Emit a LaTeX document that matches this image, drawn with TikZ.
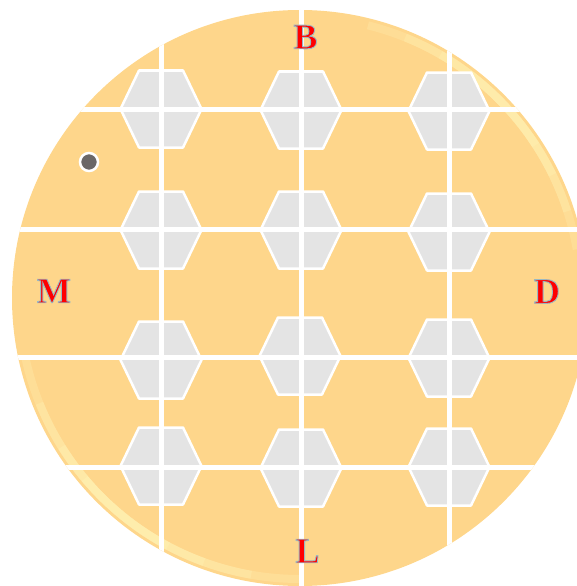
\documentclass[tikz,border=0pt]{standalone}
\usepackage{fontspec}
\setmainfont{Liberation Serif}
\definecolor{wafer}{RGB}{254,214,139}
\definecolor{hexgray}{RGB}{228,228,228}
\definecolor{dotgray}{RGB}{107,103,103}
\definecolor{rimhl}{RGB}{255,250,190}
\tikzset{
  hexcell/.pic={\fill[hexgray, draw=white, line width=2.5pt, line join=round]
     (-40.5,0) -- (-22,-38.5) -- (22,-38.5) -- (40.5,0) -- (22,38.5) -- (-22,38.5) -- cycle;},
  gridline/.style={white, line width=5pt},
  lbl/.style={font=\fontsize{36}{36}\selectfont\bfseries, inner sep=0pt, text=red},
  rim/.style={rimhl, line width=8pt},
}
% outlined (glowing) letter: fill red, thin grey-teal stroke
\newcommand\glowtext[1]{\special{pdf:literal direct q 2 Tr 0.9 w 0.6 0.72 0.76 RG}#1\special{pdf:literal direct Q}}
\begin{document}
\begin{tikzpicture}[x=1pt,y=-1pt]
\useasboundingbox (0,0) rectangle (577,586);
\coordinate (c) at (300,298);
% wafer disc
\fill[wafer] (c) circle[radius=288pt];
% rim highlights (soft, tapered by stacking)
\foreach \a/\b in {192/270, 202/260, 212/250, 220/242}
  \draw[rim, opacity=0.24] ([shift={(\a:281pt)}]c) arc[start angle=\a, end angle=\b, radius=281pt];
\foreach \a/\b in {10/76, 18/68, 26/60, 33/53}
  \draw[rim, opacity=0.22] ([shift={(\a:281pt)}]c) arc[start angle=\a, end angle=\b, radius=281pt];
% hexagon cells
\pic at (161,109) {hexcell};
\pic at (301,110) {hexcell};
\pic at (449,111) {hexcell};
\pic at (161,230) {hexcell};
\pic at (301,230) {hexcell};
\pic at (449,232) {hexcell};
\pic at (161,360) {hexcell};
\pic at (300,356) {hexcell};
\pic at (449,358) {hexcell};
\pic at (161,466) {hexcell};
\pic at (301,468) {hexcell};
\pic at (449,467) {hexcell};
% grid lines
\begin{scope}
\clip (c) circle[radius=288pt];
\coordinate (v1t) at (161,0);   \coordinate (v1b) at (161,586);
\coordinate (v2t) at (301,0);   \coordinate (v2b) at (301,586);
\coordinate (v3t) at (449,0);   \coordinate (v3b) at (449,586);
\coordinate (h1l) at (0,109);   \coordinate (h1r) at (600,109);
\coordinate (h2l) at (0,229);   \coordinate (h2r) at (600,229);
\coordinate (h3l) at (0,357);   \coordinate (h3r) at (600,357);
\coordinate (h4l) at (0,467);   \coordinate (h4r) at (600,467);
\draw[gridline] (v1t) -- (v1b);
\draw[gridline] (v2t) -- (v2b);
\draw[gridline] (v3t) -- (v3b);
\draw[gridline] (h1l) -- (h1r);
\draw[gridline] (h2l) -- (h2r);
\draw[gridline] (h3l) -- (h3r);
\draw[gridline] (h4l) -- (h4r);
\end{scope}
% dot
\node[circle, fill=dotgray, draw=white, line width=2.5pt, minimum size=18pt, inner sep=0pt] (dot) at (89,162) {};
% labels
\node[lbl] (B) at (305.5,37) {\glowtext{B}};
\node[lbl] (M) at (54,291) {\glowtext{M}};
\node[lbl] (D) at (547,291.5) {\glowtext{D}};
\node[lbl] (L) at (307.5,551) {\glowtext{L}};
\end{tikzpicture}
\end{document}
